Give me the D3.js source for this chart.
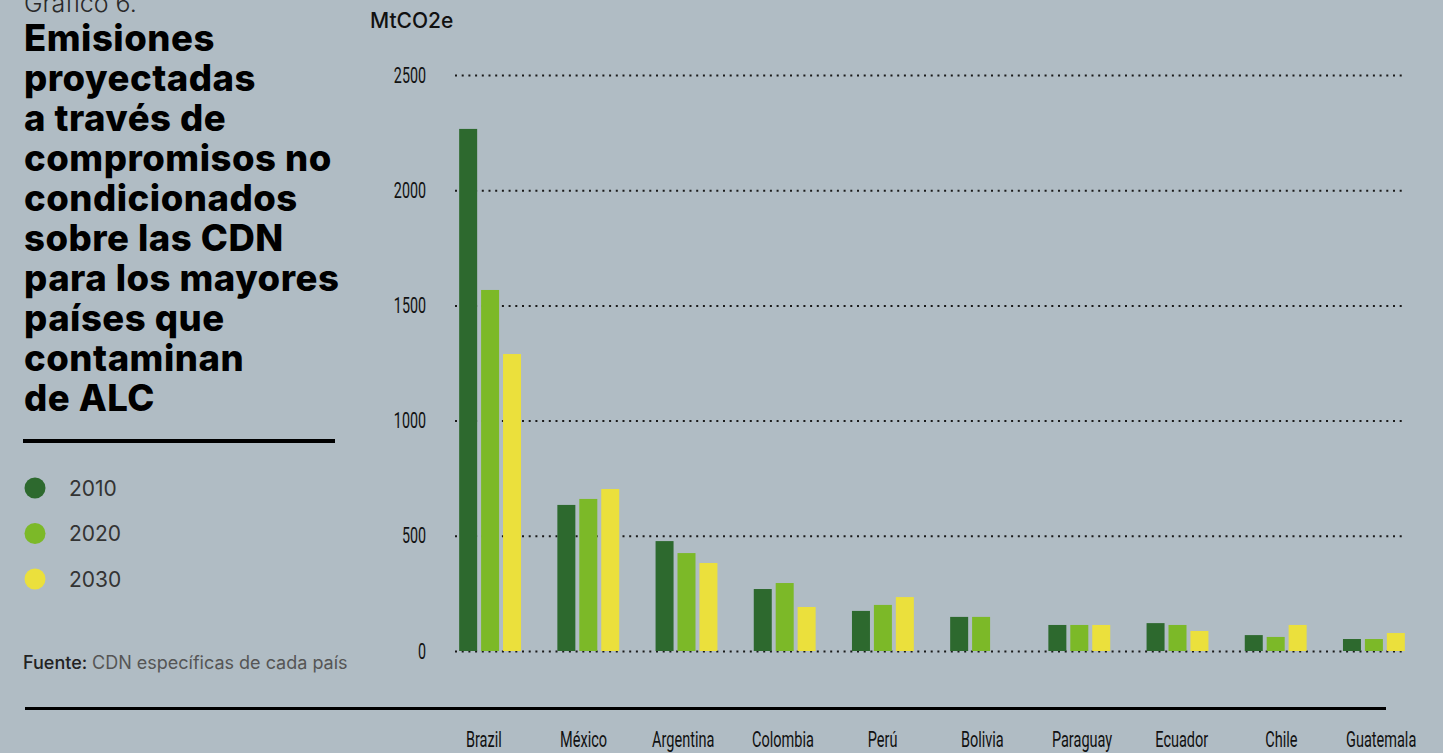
<!DOCTYPE html>
<html>
<head>
<meta charset="utf-8">
<script src="https://cdn.jsdelivr.net/npm/d3@7"></script>
<style>
  html, body { margin: 0; padding: 0; background: #b0bcc4; overflow: hidden; }
  svg { display: block; }
</style>
</head>
<body>
<script>
const countries = ["Brazil", "México", "Argentina", "Colombia", "Perú", "Bolivia", "Paraguay", "Ecuador", "Chile", "Guatemala"];
const years = ["2010", "2020", "2030"];
const values2010 = [2266, 634, 477, 269, 174, 148, 113, 121, 69, 52];
const values2020 = [1567, 660, 425, 295, 200, 148, 113, 113, 61, 52];
const values2030 = [1289, 703, 382, 191, 234, 0, 113, 87, 113, 78];
const yTicks = [0, 500, 1000, 1500, 2000, 2500];
const colors = ["#2d692e", "#7cb928", "#ebe03c"];
const titleLines = ["Emisiones", "proyectadas", "a través de", "compromisos no", "condicionados", "sobre las CDN", "para los mayores", "países que", "contaminan", "de ALC"];

const width = 1443;
const height = 753;
const sans = "Inter, 'Noto Sans', sans-serif";
const narrow = "Roboto, sans-serif";

const data = countries.map((c, i) => ({
  country: c,
  vals: [values2010[i], values2020[i], values2030[i]]
}));

const svg = d3.select("body").append("svg")
    .attr("width", width)
    .attr("height", height);

// Left panel: title, legend, source
svg.append("text")
    .attr("x", 24).attr("y", 12)
    .attr("font-family", sans).attr("font-size", 25).attr("font-weight", 300)
    .attr("fill", "#2a2a2a")
    .text("Gráfico 6.");

svg.append("g").selectAll("text")
    .data(titleLines)
    .enter().append("text")
    .attr("x", 24)
    .attr("y", (d, i) => 51 + i * 40)
    .attr("font-family", sans).attr("font-size", 36.5).attr("font-weight", 800)
    .attr("letter-spacing", 0.5)
    .attr("fill", "#000")
    .text(d => d);

svg.append("rect")
    .attr("x", 23).attr("y", 439).attr("width", 312).attr("height", 4)
    .attr("fill", "#000");

const legend = svg.append("g").selectAll("g")
    .data(years)
    .enter().append("g")
    .attr("transform", (d, i) => `translate(35,${488 + i * 45.5})`);

legend.append("circle")
    .attr("r", 10.5)
    .attr("fill", (d, i) => colors[i]);

legend.append("text")
    .attr("x", 34).attr("y", 7.5)
    .attr("font-family", sans).attr("font-size", 21)
    .attr("fill", "#333")
    .text(d => d);

const src = svg.append("text")
    .attr("x", 23).attr("y", 669)
    .attr("font-family", sans).attr("font-size", 18);
src.append("tspan").attr("fill", "#222").attr("font-weight", 500).text("Fuente: ");
src.append("tspan").attr("fill", "#555").text("CDN específicas de cada país");

// Chart
const yScale = d3.scaleLinear()
    .domain([0, 2500])
    .range([651, 75]);

const xScale = d3.scaleBand()
    .domain(countries)
    .range([441, 1423])
    .paddingInner(0.37)
    .paddingOuter(0.185);

const xSub = d3.scaleBand()
    .domain(years)
    .range([0, xScale.bandwidth()])
    .paddingInner(0.18);

// category labels sit on their own, slightly wider axis
const xLabel = d3.scaleBand()
    .domain(countries)
    .range([434, 1431]);

svg.append("text")
    .attr("x", 370).attr("y", 28)
    .attr("font-family", sans).attr("font-size", 21).attr("font-weight", 500)
    .attr("fill", "#111")
    .text("MtCO2e");

// Gridlines (dotted)
const grid = svg.append("g")
    .attr("transform", "translate(455,0)")
    .call(d3.axisRight(yScale).tickValues(yTicks).tickSize(1403 - 455).tickFormat(""));
grid.select(".domain").remove();
grid.selectAll("line")
    .attr("stroke", "#1a1a1a")
    .attr("stroke-width", 2)
    .attr("stroke-dasharray", "2,4.7");

// Y labels
const yAxis = svg.append("g")
    .attr("transform", "translate(426,0)")
    .call(d3.axisLeft(yScale).tickValues(yTicks).tickSize(0).tickPadding(0).tickFormat(d3.format("d")));
yAxis.select(".domain").remove();
yAxis.selectAll("text")
    .attr("font-family", narrow).attr("font-size", 22)
    .attr("transform", "scale(0.65,1)")
    .attr("fill", "#111");

// Bars
const groups = svg.append("g").selectAll("g")
    .data(data)
    .enter().append("g")
    .attr("transform", d => `translate(${xScale(d.country)},0)`);

groups.selectAll("rect")
    .data(d => d.vals.map((v, i) => ({ year: years[i], v, i })).filter(e => e.v > 0))
    .enter().append("rect")
    .attr("x", d => xSub(d.year))
    .attr("y", d => yScale(d.v))
    .attr("width", xSub.bandwidth())
    .attr("height", d => yScale(0) - yScale(d.v))
    .attr("fill", d => colors[d.i]);

// Bottom rule
svg.append("rect")
    .attr("x", 25).attr("y", 707).attr("width", 1361).attr("height", 3)
    .attr("fill", "#000");

// X labels
const xAxis = svg.append("g")
    .attr("transform", "translate(0,747)")
    .call(d3.axisBottom(xLabel).tickSize(0).tickPadding(0));
xAxis.select(".domain").remove();
xAxis.selectAll("text")
    .attr("dy", 0)
    .attr("font-family", narrow).attr("font-size", 22)
    .attr("transform", "scale(0.66,1)")
    .attr("fill", "#111");
</script>
</body>
</html>
